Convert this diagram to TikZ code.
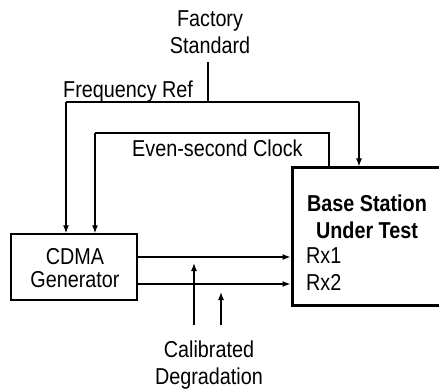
\documentclass[tikz,border=0pt]{standalone}
\usepackage{fontspec}
\setmainfont[FakeStretch=0.86]{Liberation Sans}
\usetikzlibrary{arrows.meta}
\begin{document}
\begin{tikzpicture}[x=1pt,y=-1pt,
  lbl/.style={font=\fontsize{23}{26.5}\selectfont, inner sep=0pt, align=center, anchor=base},
  arr/.style={-{Latex[length=8pt,width=6pt]}, line width=1.2pt},
  ln/.style={line width=1.2pt}]
\useasboundingbox (0,0) rectangle (439,390);
% nodes (two-line texts are placed by the baseline of their last line)
\node[lbl] (factory) at (210,53.3) {Factory\\Standard};
\node[draw, line width=1.4pt, minimum width=126pt, minimum height=66pt, inner sep=0pt] (cdma) at (74,267) {};
\node[lbl, font=\fontsize{23}{22}\selectfont] (cdmat) at (75,287) {CDMA\\Generator};
\node[draw, line width=3pt, minimum width=160pt, minimum height=137pt, inner sep=0pt] (bs) at (372,236.5) {};
\node[lbl, font=\fontsize{23}{27}\selectfont\bfseries] (bst) at (367,238) {Base Station\\Under Test};
\node[lbl, anchor=base west] (rxa) at (306,263) {Rx1};
\node[lbl, anchor=base west] (rxb) at (306,290) {Rx2};
\node[lbl, anchor=base west] (freq) at (63,98) {Frequency Ref};
\node[lbl, anchor=base west] (clk) at (132,157) {Even-second Clock};
\node[lbl] (cal) at (209,384) {Calibrated\\Degradation};
% coordinates
\coordinate (fs) at (208,62);
\coordinate (fj) at (208,102);
\coordinate (fL) at (66,102);
\coordinate (fR) at (359,102);
\coordinate (cL) at (95,133);
\coordinate (cR) at (329,133);
\coordinate (d1) at (194,325);
\coordinate (d2) at (221,325);
\coordinate (r1) at (0,257);
\coordinate (r2) at (0,284);
% connectors
\draw[ln] (fs) -- (fj);
\draw[ln] (fL) -- (fR);
\draw[arr] (fL) -- (cdma.north -| fL);
\draw[arr] (fR) -- (bs.north -| fR);
\draw[ln] (cL) -- (cR) -- (bs.north -| cR);
\draw[arr] (cL) -- (cdma.north -| cL);
\draw[arr] (cdma.east |- r1) -- (bs.west |- r1);
\draw[arr] (cdma.east |- r2) -- (bs.west |- r2);
\draw[arr] (d1) -- (d1 |- 0,263);
\draw[arr] (d2) -- (d2 |- 0,292);
\end{tikzpicture}
\end{document}
